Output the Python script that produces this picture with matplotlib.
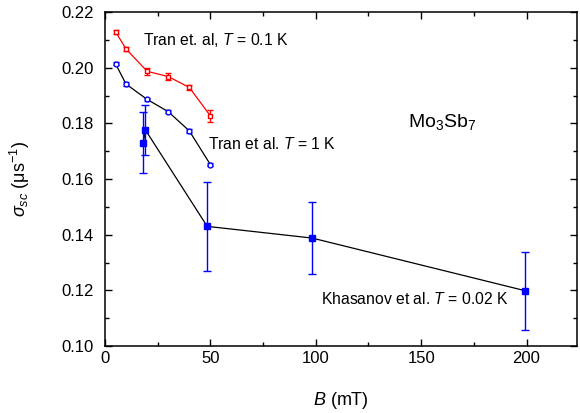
import matplotlib.pyplot as plt
from matplotlib.ticker import MultipleLocator

plt.rcParams['font.family'] = ['Liberation Sans', 'DejaVu Sans']
plt.rcParams['mathtext.fontset'] = 'custom'
plt.rcParams['mathtext.rm'] = 'Liberation Sans'
plt.rcParams['mathtext.it'] = 'Liberation Sans:italic'

# =========================
# DATA
# =========================

# Tran et al., T = 0.1 K (red open squares)
B_tran01 = [5, 10, 20, 30, 40, 50]
sig_tran01 = [0.2129, 0.2067, 0.1987, 0.1968, 0.1929, 0.1827]
err_tran01 = [0.0008, 0.0008, 0.0013, 0.0013, 0.0010, 0.0022]

# Tran et al., T = 1 K (blue open circles)
B_tran1 = [5, 10, 20, 30, 40, 50]
sig_tran1 = [0.2014, 0.1941, 0.1886, 0.1842, 0.1773, 0.1652]
err_tran1 = [0.0006, 0.0006, 0.0006, 0.0006, 0.0006, 0.0006]

# Khasanov et al., T = 0.02 K (blue filled squares)
B_khas = [18.2, 19.2, 48.5, 98.3, 199.3]
sig_khas = [0.1731, 0.1776, 0.1430, 0.1388, 0.1199]
err_khas = [0.0110, 0.0090, 0.0160, 0.0130, 0.0140]

# =========================
# PLOT
# =========================

fig = plt.figure(figsize=(5.8, 4.13), dpi=100)
ax = fig.add_axes([0.181, 0.162, 0.814, 0.809])

ax.plot(B_tran01, sig_tran01, color="red", linewidth=0.9, zorder=2)
ax.errorbar(B_tran01, sig_tran01, yerr=err_tran01, fmt="s", color="red",
            markerfacecolor="white", markeredgecolor="red", markersize=3.2,
            markeredgewidth=1, elinewidth=1, capsize=2, zorder=3)

ax.plot(B_tran1, sig_tran1, color="black", linewidth=0.9, zorder=2)
ax.errorbar(B_tran1, sig_tran1, yerr=err_tran1, fmt="o", color="blue",
            markerfacecolor="white", markeredgecolor="blue", markersize=3.5,
            markeredgewidth=1, elinewidth=1, capsize=2, zorder=3)

ax.plot(B_khas, sig_khas, color="black", linewidth=0.9, zorder=2)
ax.errorbar(B_khas, sig_khas, yerr=err_khas, fmt="s", color="blue",
            markersize=4.8, elinewidth=1, capsize=2.7, zorder=3)

# =========================
# LABELS
# =========================

ax.text(18, 0.2100, "Tran et. al, $T$ = 0.1 K", fontsize=11.3, va="center")
ax.text(49, 0.1726, "Tran et al. $T$ = 1 K", fontsize=11.3, va="center")
ax.text(144, 0.1805, "Mo$_3$Sb$_7$", fontsize=14, va="center")
ax.text(102.5, 0.1170, "Khasanov et al. $T$ = 0.02 K", fontsize=11.3, va="center")

ax.set_xlabel("$B$ (mT)", fontsize=13)
ax.set_ylabel(r"$\sigma_{sc}$ ($\mathrm{\mu s^{-1}}$)", fontsize=13)
ax.xaxis.set_label_coords(0.5, -0.13)
ax.yaxis.set_label_coords(-0.155, 0.5)

# =========================
# AXES
# =========================

ax.set_xlim(0, 224)
ax.set_ylim(0.10, 0.22)
ax.xaxis.set_major_locator(MultipleLocator(50))
ax.xaxis.set_minor_locator(MultipleLocator(25))
ax.yaxis.set_major_locator(MultipleLocator(0.02))
ax.yaxis.set_minor_locator(MultipleLocator(0.01))
ax.yaxis.set_major_formatter(plt.FormatStrFormatter("%.2f"))
ax.tick_params(which="both", direction="in", top=True, right=True,
               labelsize=12, width=1)
ax.tick_params(axis="y", pad=8)
ax.tick_params(which="major", length=5)
ax.tick_params(which="minor", length=3)
for s in ax.spines.values():
    s.set_linewidth(1.1)

fig.savefig("out.png", dpi=100)
